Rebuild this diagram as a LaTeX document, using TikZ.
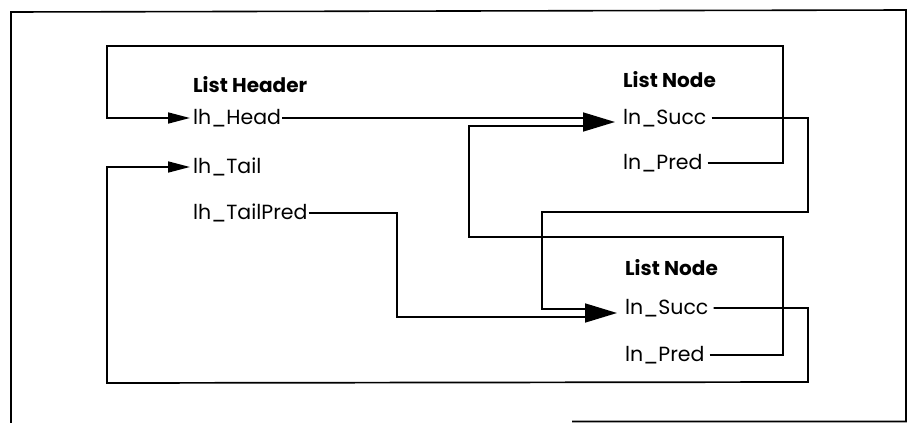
\documentclass[tikz,border=0pt]{standalone}
\usepackage{fontspec}
\setmainfont{Poppins}
\usetikzlibrary{arrows.meta}
\begin{document}
\begin{tikzpicture}[x=1pt,y=-1pt,
  wire/.style={line width=1.7pt},
  lbl/.style={inner sep=0pt,anchor=west,font=\fontsize{20.5}{22}\selectfont},
  ttl/.style={inner sep=0pt,anchor=west,font=\fontsize{20}{22}\selectfont\bfseries},
  smallhead/.style={-{Triangle[length=22pt,width=11pt]}},
  bighead/.style={-{Triangle[length=32pt,width=19pt]}}]
\useasboundingbox (0,0) rectangle (911,423);
% frame
\draw[line width=1.6pt] (572,421.5) -- (906,421.5) -- (906,10) -- (11,12) -- (11,423);
% text nodes
\node[ttl] (hdr) at (193,85) {List Header};
\node[lbl] (head) at (193,118) {lh\_Head};
\node[lbl] (tail) at (193,167) {lh\_Tail};
\node[lbl] (tailpred) at (193,213) {lh\_TailPred};
\node[ttl] (n1) at (623,80) {List Node};
\node[lbl] (succ1) at (623,118) {ln\_Succ};
\node[lbl] (pred1) at (623,163) {ln\_Pred};
\node[ttl] (n2) at (625,268) {List Node};
\node[lbl] (succ2) at (625,308) {ln\_Succ};
\node[lbl] (pred2) at (625,355) {ln\_Pred};
% arrow bases and tips
\coordinate (b1u) at (583,118);
\coordinate (b1l) at (583,126);
\coordinate (h1) at (583,122);
\coordinate (t1) at (615,122);
\coordinate (b2u) at (585,309);
\coordinate (b2l) at (585,317);
\coordinate (h2) at (585,313);
\coordinate (t2) at (617,313);
% connectors
\draw[wire,smallhead] ([xshift=5pt]pred1.east) -| (783,46) -- (107,46) |- ([xshift=-3pt]head.west);
\draw[wire] ([xshift=1pt]head.east) -- (b1u);
\draw[wire] ([xshift=5pt]pred2.east) -| (783,237) -| (469,126) -- (b1l);
\draw[wire,bighead] (h1) -- (t1);
\draw[wire] ([xshift=5pt]succ1.east) -| (808,212) -| (542,309) -- (b2u);
\draw[wire] ([xshift=1pt]tailpred.east) -| (397,317) -- (b2l);
\draw[wire,bighead] (h2) -- (t2);
\draw[wire,smallhead] ([xshift=5pt]succ2.east) -| (808,382) -- (107,383) |- ([xshift=-3pt]tail.west);
\end{tikzpicture}
\end{document}
